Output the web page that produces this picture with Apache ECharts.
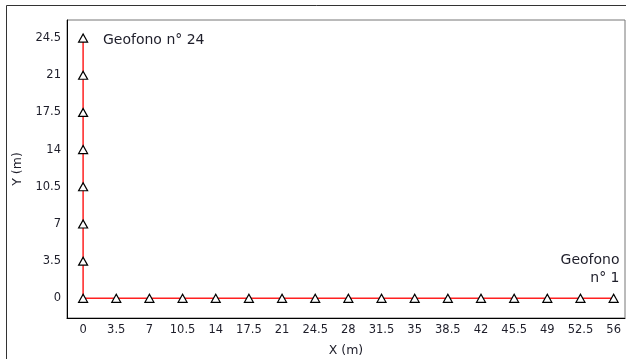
<!DOCTYPE html>
<html><head><meta charset="utf-8">
<script src="https://cdn.jsdelivr.net/npm/echarts@6/dist/echarts.min.js"></script>
<style>html,body{margin:0;padding:0;background:#fff}#c{width:626px;height:359px}</style>
</head><body><div id="c"></div>
<script>
// Geophone positions (geophone 1 .. 24)
const geoX = [56, 52.5, 49, 45.5, 42, 38.5, 35, 31.5, 28, 24.5, 21, 17.5, 14, 10.5, 7, 3.5, 0, 0, 0, 0, 0, 0, 0, 0];
const geoY = [0, 0, 0, 0, 0, 0, 0, 0, 0, 0, 0, 0, 0, 0, 0, 0, 0, 3.5, 7, 10.5, 14, 17.5, 21, 24.5];
const xTicks = [0, 3.5, 7, 10.5, 14, 17.5, 21, 24.5, 28, 31.5, 35, 38.5, 42, 45.5, 49, 52.5, 56];
const yTicks = [0, 3.5, 7, 10.5, 14, 17.5, 21, 24.5];
const firstLabel = 'Geofono\nn° 1';
const lastLabel = 'Geofono n° 24';

const FONT = 'DejaVu Sans';
const TXT = '#1e1e2a';
const data = geoX.map((x, i) => {
  const item = { value: [x, geoY[i]] };
  if (i === 0) item.label = { show: true, formatter: firstLabel, position: [11, -42], align: 'right', lineHeight: 17.5, fontSize: 14, color: TXT, fontFamily: FONT };
  if (i === geoX.length - 1) item.label = { show: true, formatter: lastLabel, position: [25, 0], align: 'left', fontSize: 14, color: TXT, fontFamily: FONT };
  return item;
});

const chart = echarts.init(document.getElementById('c'));
chart.setOption({
  animation: false,
  graphic: [{ type: 'rect', shape: { x: 6.5, y: 5.5, width: 700, height: 400 }, style: { fill: 'none', stroke: '#333', lineWidth: 1 }, z: -1 }],
  grid: { left: 67, top: 20, right: 1, bottom: 41, show: true, borderColor: '#777', borderWidth: 1, containLabel: false, outerBoundsMode: 'none' },
  xAxis: {
    type: 'value', min: -1.7, max: 57.2,
    name: 'X (m)', nameLocation: 'middle', nameGap: 26,
    nameTextStyle: { fontFamily: FONT, fontSize: 12.5, color: TXT },
    axisLine: { show: true, onZero: false, lineStyle: { color: '#000', width: 1 } },
    axisTick: { show: false },
    splitLine: { show: false },
    axisLabel: { customValues: xTicks, fontFamily: FONT, fontSize: 11.5, color: TXT, margin: 6 }
  },
  yAxis: {
    type: 'value', min: -1.85, max: 26.2,
    name: 'Y (m)', nameLocation: 'middle', nameGap: 38, nameRotate: 90,
    nameTextStyle: { fontFamily: FONT, fontSize: 12.5, color: TXT },
    axisLine: { show: true, onZero: false, lineStyle: { color: '#000', width: 1 } },
    axisTick: { show: false },
    splitLine: { show: false },
    axisLabel: { customValues: yTicks, fontFamily: FONT, fontSize: 11.5, color: TXT, margin: 6 }
  },
  series: [{
    type: 'line', data: data,
    symbol: 'triangle', symbolSize: [9, 8], showAllSymbol: true,
    lineStyle: { color: '#ff2020', width: 1.5 },
    itemStyle: { color: '#fff', borderColor: '#000', borderWidth: 1.2 },
    z: 3
  }]
});
</script></body></html>
